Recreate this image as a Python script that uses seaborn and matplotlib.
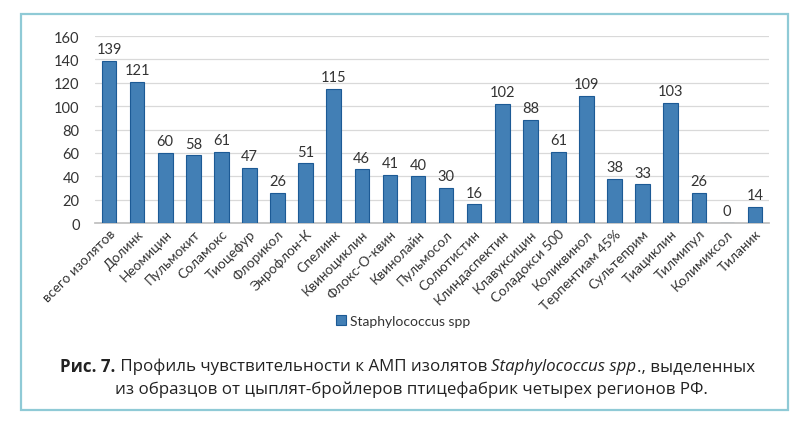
import numpy as np
import pandas as pd
import matplotlib
matplotlib.use("Agg")
import matplotlib.pyplot as plt
import seaborn as sns
from matplotlib.patches import Rectangle

# drugs and number of sensitive isolates
drugs = ["всего изолятов", "Долинк", "Неомицин", "Пульмокит", "Соламокс", "Тиоцефур",
         "Флорикол", "Энрофлон-К", "Спелинк", "Квиноциклин", "Флокс-О-квин", "Квинолайн",
         "Пульмосол", "Солютистин", "Клиндаспектин", "Клавуксицин", "Соладокси 500",
         "Коликвинол", "Терпентиам 45%", "Сультеприм", "Тиациклин", "Тилмипул",
         "Колимиксол", "Тиланик"]
counts = [139, 121, 60, 58, 61, 47, 26, 51, 115, 46, 41, 40, 30, 16, 102, 88, 61,
          109, 38, 33, 103, 26, 0, 14]
series_name = "Staphylococcus spp"

df = pd.DataFrame({"drug": drugs, "count": counts, "series": series_name})

sns.set_theme(style="white")
plt.rcParams["font.family"] = ["Lato", "DejaVu Sans"]

fig = plt.figure(figsize=(8.07, 4.39), dpi=100)
ax = fig.add_axes([0.1177, 0.4897, 0.8353, 0.426])

sns.barplot(data=df, x="drug", y="count", hue="series", palette=["#2f80c8"],
            width=0.52, edgecolor="#1c5a95", linewidth=0.8, ax=ax, zorder=3)

for i, v in enumerate(counts):
    ax.text(i, v + 4, str(v), ha="center", va="bottom", fontsize=10.5, color="#333333")

ax.set_ylim(0, 160)
ax.set_yticks(range(0, 161, 20))
ax.yaxis.grid(True, color="#d9d9d9", linewidth=0.9, zorder=0)
ax.tick_params(axis="y", labelsize=10.5, labelcolor="#333333", length=0, pad=11)
ax.tick_params(axis="x", labelsize=9.8, labelcolor="#333333", length=0, pad=3)
plt.setp(ax.get_xticklabels(), rotation=45, ha="right", rotation_mode="anchor")
ax.set_xlabel("")
ax.set_ylabel("")
for s in ["top", "right", "left"]:
    ax.spines[s].set_visible(False)
ax.spines["bottom"].set_color("#bfbfbf")

ax.legend(loc="center", bbox_to_anchor=(0.5, 0.2665), bbox_transform=fig.transFigure,
          frameon=False, fontsize=10, handlelength=0.7, handleheight=0.7,
          handletextpad=0.3, labelcolor="#333333")

# frame around the figure
fig.patches.append(Rectangle((0.026, 0.064), 0.950, 0.902, transform=fig.transFigure,
                             fill=False, edgecolor="#8fcad6", linewidth=1.6))

# caption with mixed styles
cap_font = ["Open Sans", "DejaVu Sans"]
cap_size = 12.2
lines = [
    [("Рис. 7.", "bold", "normal"),
     (" Профиль чувствительности к АМП изолятов ", "normal", "normal"),
     ("Staphylococcus spp", "normal", "italic"),
     ("., выделенных", "normal", "normal")],
    [("из образцов от цыплят-бройлеров птицефабрик четырех регионов РФ.", "normal", "normal")],
]
centers = [(0.505, 1 - 367 / 439), (0.51, 1 - 390 / 439)]
fig.canvas.draw()
renderer = fig.canvas.get_renderer()
for parts, (cx, cy) in zip(lines, centers):
    items = []
    total = 0
    for txt, w, st in parts:
        t = fig.text(0, cy, txt, fontsize=cap_size, fontweight=w, fontstyle=st,
                     family=cap_font, color="#222222", va="center", ha="left")
        bb = t.get_window_extent(renderer)
        items.append((t, bb.width))
        total += bb.width
    x = cx * fig.bbox.width - total / 2
    for t, wdt in items:
        t.set_x(x / fig.bbox.width)
        x += wdt

fig.savefig("out.png", dpi=100)
